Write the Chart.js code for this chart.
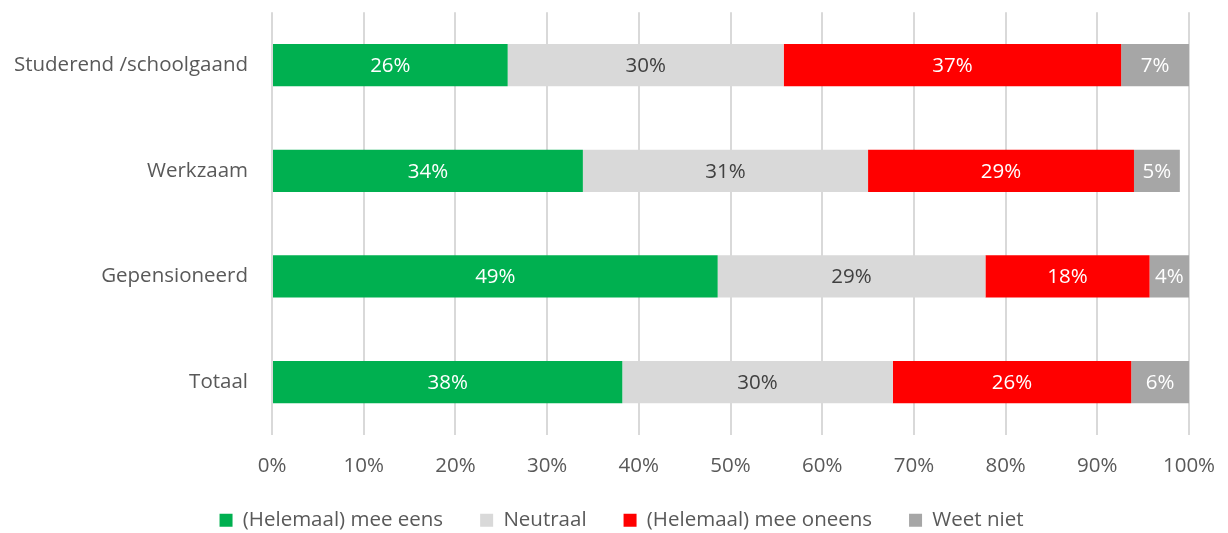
<!DOCTYPE html>
<html>
<head>
<meta charset="utf-8">
<script src="https://cdn.jsdelivr.net/npm/chart.js@4/dist/chart.umd.min.js"></script>
<style>
html,body{margin:0;padding:0;background:#fff;}
#wrap{width:1228px;height:533px;position:relative;}
</style>
</head>
<body>
<div id="wrap"><canvas id="c" width="1228" height="533"></canvas></div>
<script>
const categories = ["Studerend /schoolgaand", "Werkzaam", "Gepensioneerd", "Totaal"];
const seriesNames = ["(Helemaal) mee eens", "Neutraal", "(Helemaal) mee oneens", "Weet niet"];
const eens = [25.7, 33.9, 48.6, 38.2];
const neutraal = [30.1, 31.1, 29.2, 29.5];
const oneens = [36.8, 29.0, 17.9, 26.0];
const weetNiet = [7.4, 5.0, 4.3, 6.3];
const xTicks = [0, 10, 20, 30, 40, 50, 60, 70, 80, 90, 100];

const colors = ["#00B050", "#D9D9D9", "#FF0000", "#A6A6A6"];
const labelColors = ["#FFFFFF", "#404040", "#FFFFFF", "#FFFFFF"];
const FONT = "'Open Sans', sans-serif";
const FS = 20.5;

const dataLabels = {
  id: 'dataLabels',
  afterDatasetsDraw(chart) {
    const ctx = chart.ctx;
    ctx.save();
    ctx.font = FS + "px " + FONT;
    ctx.textAlign = 'center';
    ctx.textBaseline = 'middle';
    chart.data.datasets.forEach((ds, i) => {
      const meta = chart.getDatasetMeta(i);
      meta.data.forEach((el, j) => {
        const v = ds.data[j];
        const cx = (el.x + el.base) / 2;
        ctx.fillStyle = labelColors[i];
        ctx.fillText(Math.round(v) + '%', cx, el.y + 1);
      });
    });
    ctx.restore();
  }
};

const legendFit = {
  id: 'legendFit',
  beforeInit(chart) {
    const lg = chart.legend;
    const origFit = lg.fit;
    lg.fit = function () {
      origFit.bind(lg)();
      this.height = 60;
    };
    const origDraw = lg.draw;
    lg.draw = function () {
      const ctx = chart.ctx;
      ctx.save();
      ctx.translate(22, 0);
      origDraw.bind(lg)();
      ctx.restore();
    };
  }
};

const datasets = [eens, neutraal, oneens, weetNiet].map((d, i) => ({
  label: seriesNames[i],
  data: d,
  backgroundColor: colors[i],
  borderWidth: 0,
  categoryPercentage: 0.4,
  barPercentage: 1.0
}));

new Chart(document.getElementById('c'), {
  type: 'bar',
  data: { labels: categories, datasets },
  plugins: [dataLabels, legendFit],
  options: {
    indexAxis: 'y',
    responsive: false,
    animation: false,
    layout: { padding: { left: 10, right: 39, top: 11, bottom: 0 } },
    plugins: {
      tooltip: { enabled: false },
      legend: {
        position: 'bottom',
        labels: {
          boxWidth: 13, boxHeight: 13, padding: 37,
          color: '#595959',
          font: { family: FONT, size: FS }
        }
      }
    },
    scales: {
      x: {
        stacked: true,
        min: 0, max: 100,
        afterBuildTicks(s) { s.ticks = xTicks.map(v => ({ value: v })); },
        afterFit(s) { s.height = 38; },
        ticks: {
          padding: 0,
          color: '#595959',
          font: { family: FONT, size: FS },
          callback: v => v + '%'
        },
        grid: { color: '#D9D9D9', lineWidth: 2, drawTicks: true, tickLength: 19, tickColor: 'rgba(0,0,0,0)' },
        border: { display: false }
      },
      y: {
        stacked: true,
        afterFit(s) { s.width = 262; },
        ticks: {
          padding: 0,
          color: '#595959',
          font: { family: FONT, size: FS }
        },
        grid: { display: false, drawTicks: true, tickLength: 24 },
        border: { display: false }
      }
    }
  }
});
</script>
</body>
</html>
